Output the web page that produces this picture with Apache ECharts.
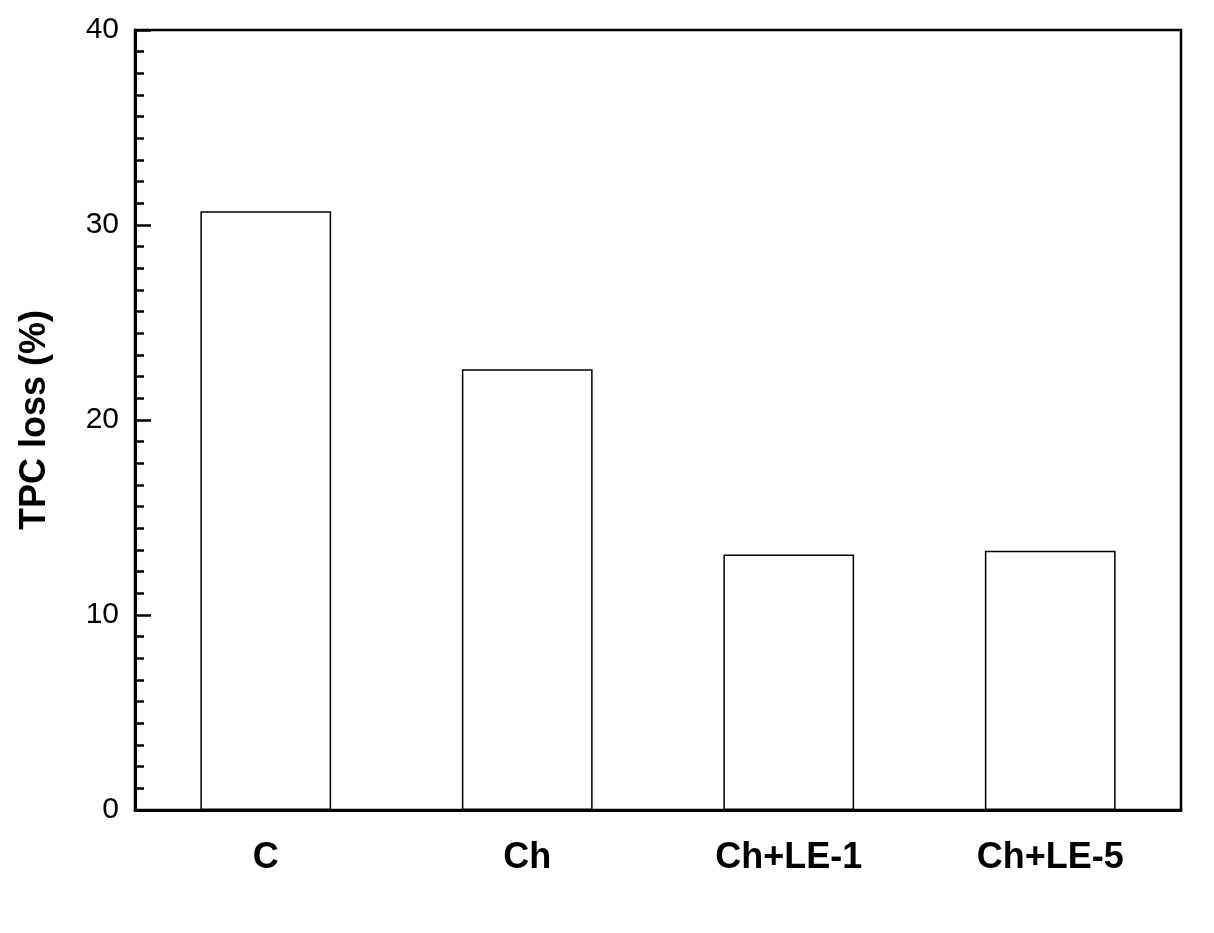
<!DOCTYPE html>
<html>
<head>
<meta charset="utf-8">
<script src="https://cdn.jsdelivr.net/npm/echarts@6/dist/echarts.min.js"></script>
<style>html,body{margin:0;padding:0;background:#fff}#main{width:1214px;height:933px}</style>
</head>
<body>
<div id="main"></div>
<script>
var categories = ['C', 'Ch', 'Ch+LE-1', 'Ch+LE-5'];
var tpcLoss = [30.7, 22.6, 13.1, 13.3];

var chart = echarts.init(document.getElementById('main'));
chart.setOption({
  animation: false,
  backgroundColor: '#fff',
  grid: { left: 135, right: 33, top: 30, bottom: 123, show: true, borderColor: '#000', borderWidth: 2.5 },
  xAxis: {
    type: 'category',
    data: categories,
    axisLine: { lineStyle: { color: '#000', width: 3 } },
    axisTick: { show: false },
    axisLabel: { color: '#000', fontSize: 36, fontWeight: 'bold', fontFamily: 'Liberation Sans', margin: 30 }
  },
  yAxis: {
    type: 'value',
    min: 0, max: 40, interval: 10,
    name: 'TPC loss (%)',
    nameLocation: 'middle',
    nameGap: 82,
    nameTextStyle: { color: '#000', fontSize: 36, fontWeight: 'bold', fontFamily: 'Liberation Sans' },
    axisLine: { show: true, lineStyle: { color: '#000', width: 3 } },
    axisTick: { show: true, inside: true, length: 16, lineStyle: { color: '#000', width: 2.5 } },
    minorTick: { show: true, splitNumber: 9, length: 9, lineStyle: { color: '#000', width: 2.5 } },
    splitLine: { show: false },
    axisLabel: { color: '#000', fontSize: 30, fontFamily: 'Liberation Sans', margin: 16 }
  },
  series: [{
    type: 'bar',
    data: tpcLoss,
    barWidth: '50%',
    itemStyle: { color: '#fff', borderColor: '#000', borderWidth: 1.5 }
  }]
});
</script>
</body>
</html>
